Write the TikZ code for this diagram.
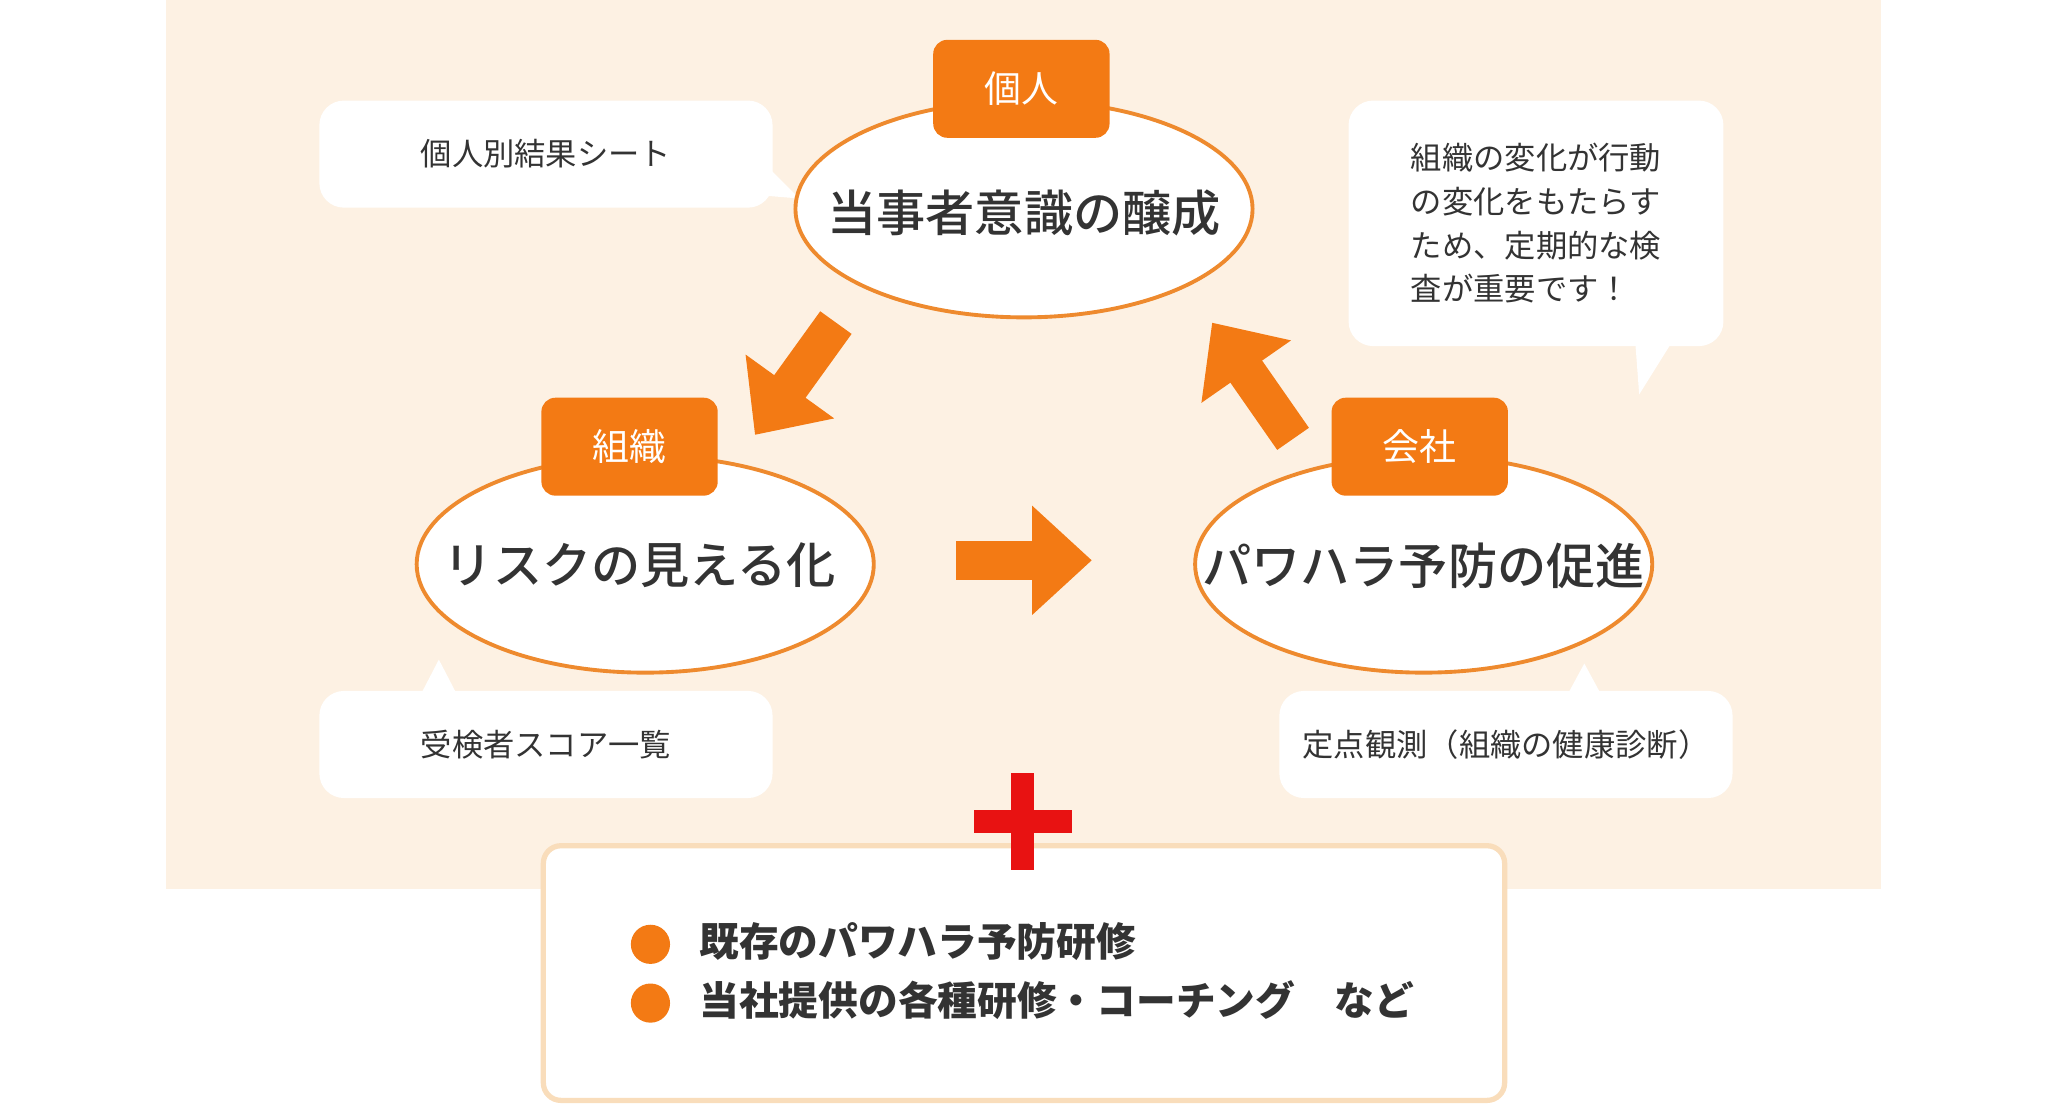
\documentclass[tikz,border=0pt]{standalone}
\usepackage{fontspec}
\setmainfont{Noto Sans CJK JP}
\newfontfamily\midfont{Noto Sans CJK JP Medium}
\usetikzlibrary{arrows.meta,positioning,shapes.geometric,calc}
\definecolor{bgbeige}{HTML}{FDF1E3}
\definecolor{accent}{HTML}{F37A14}
\definecolor{ringline}{HTML}{EE8A2E}
\definecolor{boxline}{HTML}{F9DDBB}
\definecolor{plusred}{HTML}{E81212}
\definecolor{txt}{HTML}{333333}
\begin{document}
\begin{tikzpicture}[x=0.013061cm, y=-0.013061cm,
    ring/.style={draw=ringline, line width=1.1pt, fill=white},
    goal/.style={inner sep=0pt, font=\midfont\fontsize{14}{16}\selectfont, text=txt},
    tag/.style={rectangle, rounded corners=4pt, fill=accent, text=white, minimum width=135*0.013061cm, minimum height=75*0.013061cm, font=\fontsize{10.5}{12}\selectfont},
    note/.style={rectangle, rounded corners=7pt, fill=white, minimum width=347*0.013061cm, minimum height=82*0.013061cm, font=\fontsize{8.9}{12.4}\selectfont, text=txt},
    flow/.style={-{Triangle[length=17pt,width=30pt]}, line width=11pt, draw=accent},
    dot/.style={circle, fill=accent, minimum size=30*0.013061cm, inner sep=0pt},
    item/.style={anchor=west, font=\bfseries\fontsize{11.3}{13}\selectfont, text=txt}
]
\useasboundingbox (0,0) rectangle (1568,845);
\fill[bgbeige] (127,0) rectangle (1440,681);
% callouts
\node[note] (n-sheet) at (418,118) {個人別結果シート};
\fill[white] (588,128) -- (612,152) -- (588,150) -- cycle;
\node[note, minimum width=287*0.013061cm, minimum height=188*0.013061cm, align=left] (n-check) at (1176,171) {組織の変化が行動\\の変化をもたらす\\ため、定期的な検\\査が重要です！};
\fill[white] (1252,262) -- (1255,302) -- (1280,262) -- cycle;
\node[note] (n-score) at (418,570) {受検者スコア一覧};
\fill[white] (322,532) -- (336,505) -- (350,532) -- cycle;
\node[note] (n-point) at (1153,570) {定点観測（組織の健康診断）};
\fill[white] (1200,532) -- (1213,508) -- (1226,532) -- cycle;
% ellipses and tags
\draw[ring] (784,160) ellipse [x radius=175, y radius=83];
\draw[ring] (494,432) ellipse [x radius=175, y radius=83];
\draw[ring] (1090,432) ellipse [x radius=175, y radius=83];
\node[goal] (g-self) at (784,163) {当事者意識の醸成};
\node[goal] (g-org) at (490,433) {リスクの見える化};
\node[goal] (g-comp) at (1090,433) {パワハラ予防の促進};
\node[tag] (t-self) at (782,68) {個人};
\node[tag] (t-org) at (482,342) {組織};
\node[tag] (t-comp) at (1087,342) {会社};
% cycle arrows
\coordinate (a1s) at (640,247);
\coordinate (a1e) at (578,333);
\coordinate (a2s) at (732,429);
\coordinate (a2e) at (836,429);
\coordinate (a3s) at (990,336);
\coordinate (a3e) at (928,247);
\draw[flow] (a1s) -- (a1e);
\draw[flow] (a2s) -- (a2e);
\draw[flow] (a3s) -- (a3e);
% bottom box
\node[rectangle, draw=boxline, line width=1.5pt, rounded corners=5pt, fill=white, minimum width=736*0.013061cm, minimum height=195*0.013061cm] (extra) at (784,745) {};
\fill[plusred] (774,592) rectangle (792,666);
\fill[plusred] (746,620) rectangle (821,638);
\node[dot] (d1) at (498,723) {};
\node[dot] (d2) at (498,768) {};
\node[item] (i1) at (526,721) {既存のパワハラ予防研修};
\node[item] (i2) at (526,766) {当社提供の各種研修・コーチング\quad など};
\end{tikzpicture}
\end{document}
